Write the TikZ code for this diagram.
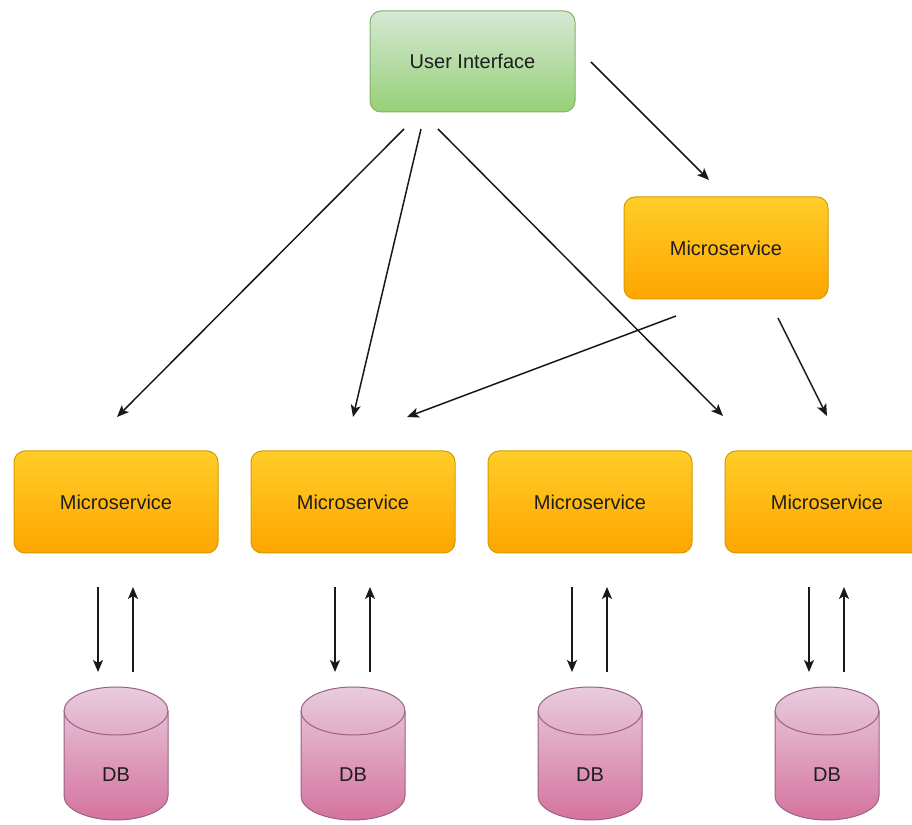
\documentclass[tikz,border=0pt]{standalone}
\usepackage{fontspec}
\setmainfont{Liberation Sans}
\usetikzlibrary{arrows.meta,calc}
\definecolor{uitop}{HTML}{D5E8D4}
\definecolor{uibot}{HTML}{97D077}
\definecolor{uiline}{HTML}{82B366}
\definecolor{mstop}{HTML}{FFCD28}
\definecolor{msbot}{HTML}{FFA500}
\definecolor{msline}{HTML}{D79B00}
\definecolor{dbtop}{HTML}{E8CCDE}
\definecolor{dbbot}{HTML}{D5739D}
\definecolor{dbline}{HTML}{996185}
\definecolor{txt}{HTML}{1E1E1E}
\tikzset{
  box/.style={rectangle, rounded corners=11pt, minimum width=204pt, minimum height=102pt,
    font=\fontsize{20}{24}\selectfont, text=txt, line width=1pt},
  uibox/.style={box, draw=uiline, top color=uitop, bottom color=uibot},
  msbox/.style={box, draw=msline, top color=mstop, bottom color=msbot},
  dbshape/.style={draw=dbline, line width=1pt, top color=dbtop, bottom color=dbbot},
  dbedge/.style={draw=dbline, line width=1pt},
  dblabel/.style={font=\fontsize{20}{24}\selectfont, text=txt, inner sep=0pt},
  arr/.style={draw=black!90, line width=1.5pt, -{Stealth[length=12pt,width=10pt,inset=3pt]}}
}
\begin{document}
\begin{tikzpicture}[x=1pt,y=1pt]
\useasboundingbox (0,0) rectangle (912,824);
\clip (0,0) rectangle (912,824);
\fill[white] (0,0) rectangle (912,824);

\node[uibox, minimum width=205pt, minimum height=101pt] (ui) at (472.5,762.5) {User Interface};
\node[msbox] (tms) at (726,576) {Microservice};
\node[msbox] (ms1) at (116,322) {Microservice};
\node[msbox] (ms2) at (353,322) {Microservice};
\node[msbox] (ms3) at (590,322) {Microservice};
\node[msbox] (ms4) at (827,322) {Microservice};

\foreach \i/\x in {1/116,2/353,3/590,4/827}{
  \path[dbshape] (\x-52,113) -- (\x-52,28)
     arc[start angle=180,end angle=360,x radius=52,y radius=24]
     -- (\x+52,113)
     arc[start angle=0,end angle=180,x radius=52,y radius=24] -- cycle;
  \draw[dbedge] (\x-52,113) arc[start angle=180,end angle=360,x radius=52,y radius=24];
  \node[dblabel] (db\i) at (\x,49) {DB};
}

\draw[arr] ($(ui.center)+(-68.5,-67.5)$) -- ($(ms1.center)+(1,85)$);
\draw[arr] ($(ui.center)+(-51.5,-67.5)$) -- ($(ms2.center)+(0,85)$);
\draw[arr] ($(ui.center)+(-34.5,-67.5)$) -- ($(ms4.center)+(-104,86)$);
\draw[arr] ($(ui.center)+(118.5,-0.5)$) -- ($(tms.center)+(-17,68)$);
\draw[arr] ($(tms.center)+(-50,-68)$) -- ($(ms2.center)+(54,85)$);
\draw[arr] ($(tms.center)+(52,-70)$) -- ($(ms4.center)+(0,86)$);

\foreach \i in {1,2,3,4}{
  \draw[arr] ($(ms\i.center)+(-18,-85)$) -- ($(db\i.center)+(-18,103)$);
  \draw[arr] ($(db\i.center)+(17,103)$) -- ($(ms\i.center)+(17,-85)$);
}
\end{tikzpicture}
\end{document}
